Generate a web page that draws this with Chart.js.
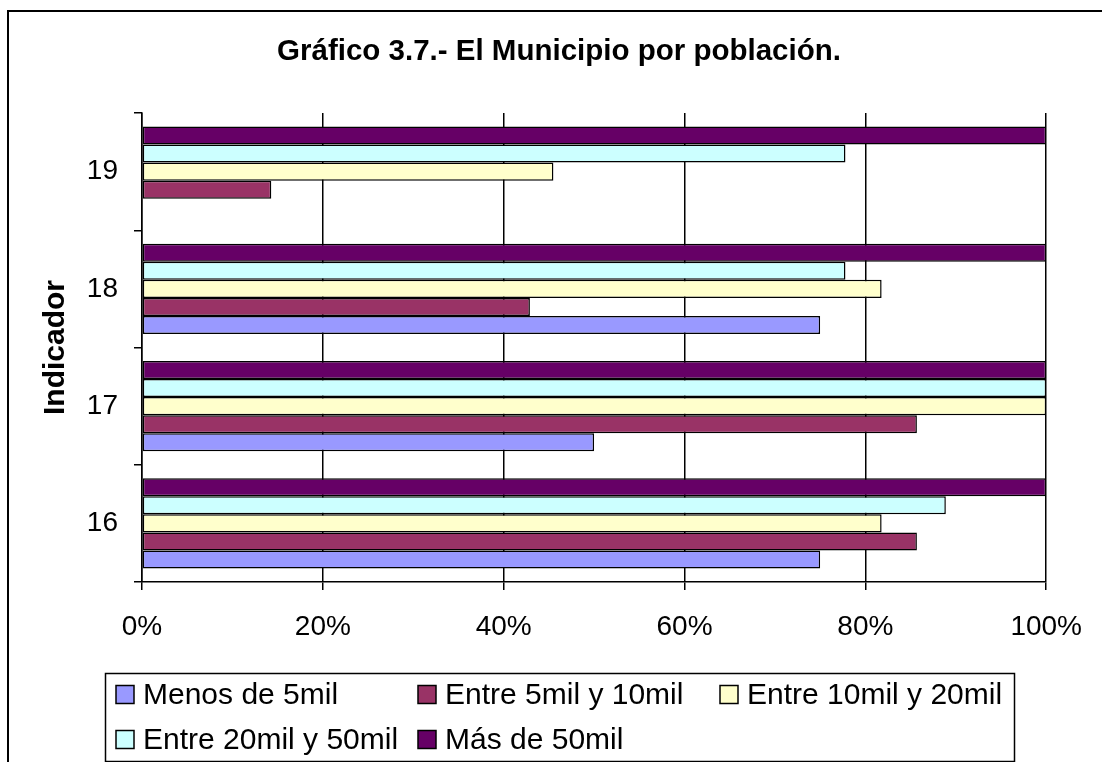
<!DOCTYPE html>
<html><head><meta charset="utf-8">
<script src="https://cdn.jsdelivr.net/npm/chart.js@4"></script>
<style>html,body{margin:0;padding:0;background:#fff;overflow:hidden;}</style>
</head><body>
<canvas id="c" width="1102" height="762" style="display:block;width:1102px;height:762px"></canvas>
<script>
const categories = ['16', '17', '18', '19'];
const menos5mil = [75, 50, 75, null];
const entre5y10mil = [85.7, 85.7, 42.9, 14.3];
const entre10y20mil = [81.8, 100, 81.8, 45.5];
const entre20y50mil = [88.9, 100, 77.8, 77.8];
const mas50mil = [100, 100, 100, 100];
const xTickValues = [0, 20, 40, 60, 80, 100];
const seriesNames = ['Menos de 5mil', 'Entre 5mil y 10mil', 'Entre 10mil y 20mil', 'Entre 20mil y 50mil', 'Más de 50mil'];
const seriesColors = ['#9999FF', '#993366', '#FFFFCC', '#CCFFFF', '#660066'];
const seriesValues = [menos5mil, entre5y10mil, entre10y20mil, entre20y50mil, mas50mil];

const FONT = '"Liberation Sans", Arial, sans-serif';

// Excel places the last series on top of each group: build datasets in reverse order
const datasets = seriesNames.map((name, i) => ({
  label: name,
  data: seriesValues[i],
  backgroundColor: seriesColors[i],
  borderColor: '#000',
  borderWidth: 1.5,
  borderSkipped: false,
  categoryPercentage: 0.77,
  barPercentage: 1.0
})).reverse();

const frame = {
  id: 'frame',
  beforeDraw(chart) {
    const ctx = chart.ctx;
    ctx.save();
    ctx.fillStyle = '#fff';
    ctx.fillRect(0, 0, chart.width, chart.height);
    ctx.strokeStyle = '#000';
    ctx.lineWidth = 2;
    ctx.strokeRect(8, 11, chart.width + 50, chart.height + 50);
    ctx.restore();
  }
};

const excelLegend = {
  id: 'excelLegend',
  afterDraw(chart) {
    const ctx = chart.ctx;
    const a = chart.chartArea;
    const left = 105.5, top = a.bottom + 91.5, right = 1014.5, bottom = 761.5;
    ctx.save();
    ctx.strokeStyle = '#000';
    ctx.lineWidth = 1.5;
    ctx.strokeRect(left, top, right - left, bottom - top);
    ctx.font = '30px ' + FONT;
    ctx.textBaseline = 'middle';
    ctx.textAlign = 'left';
    const colW = 302, cols = 3, rowH = 45;
    seriesNames.forEach((name, i) => {
      const col = i % cols, row = Math.floor(i / cols);
      const x = left + 10.5 + col * colW;
      const cy = top + 21 + row * rowH;
      ctx.fillStyle = seriesColors[i];
      ctx.fillRect(x, cy - 9, 18, 18);
      ctx.strokeStyle = '#000';
      ctx.lineWidth = 1.5;
      ctx.strokeRect(x, cy - 9, 18, 18);
      ctx.fillStyle = '#000';
      ctx.fillText(name, x + 27, cy + 1);
    });
    ctx.restore();
  }
};

new Chart(document.getElementById('c'), {
  type: 'bar',
  data: { labels: categories, datasets },
  options: {
    indexAxis: 'y',
    responsive: false,
    animation: false,
    devicePixelRatio: 1,
    layout: { padding: { left: 68, right: 52, top: 0, bottom: 118 } },
    plugins: {
      legend: { display: false },
      tooltip: { enabled: false },
      title: {
        display: true,
        text: 'Gráfico 3.7.- El Municipio por población.',
        color: '#000',
        font: { family: FONT, size: 29.5, weight: 'bold' },
        padding: { top: 34.3, bottom: 43.3 }
      }
    },
    scales: {
      x: {
        type: 'linear',
        min: 0,
        max: 100,
        afterBuildTicks(s) { s.ticks = xTickValues.map(v => ({ value: v })); },
        ticks: {
          callback: v => v + '%',
          color: '#000',
          font: { family: FONT, size: 28 },
          padding: 20,
          maxRotation: 0
        },
        grid: { color: '#000', lineWidth: 1.5, tickLength: 8, drawTicks: true, drawOnChartArea: true },
        border: { display: true, color: '#000', width: 1.5 },
        afterFit(s) { s.height = 62; }
      },
      y: {
        type: 'category',
        reverse: true,
        ticks: { color: '#000', font: { family: FONT, size: 28 }, padding: 16 },
        grid: { offset: true, drawOnChartArea: false, drawTicks: true, tickLength: 8, color: '#000', lineWidth: 1.5 },
        border: { display: true, color: '#000', width: 1.5 },
        title: {
          display: true,
          text: 'Indicador',
          color: '#000',
          font: { family: FONT, size: 30, weight: 'bold' },
          padding: { top: -30, bottom: 0 }
        },
        afterFit(s) { s.width = 74; }
      }
    }
  },
  plugins: [frame, excelLegend]
});
</script>
</body></html>
